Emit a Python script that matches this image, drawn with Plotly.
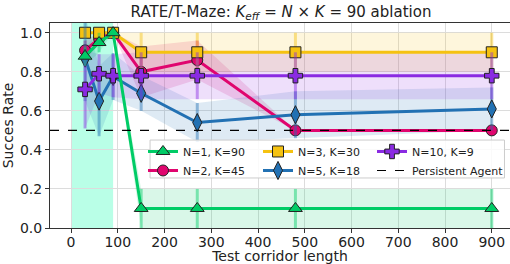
import plotly.graph_objects as go

# ---- data ----
LENGTHS = [30, 60, 90, 150, 270, 480, 900]
TRAIN_MAX = 90
PERSISTENT_RATE = 0.5

NAMES = ["N=1, K=90", "N=2, K=45", "N=3, K=30", "N=5, K=18", "N=10, K=9"]
N1_MEAN = [0.88, 0.95, 1.0, 0.1, 0.1, 0.1, 0.1]
N1_STD = [0.05, 0.05, 0.0, 0.1, 0.1, 0.1, 0.1]
N2_MEAN = [0.91, 0.97, 1.0, 0.80, 0.86, 0.5, 0.5]
N2_STD = [0.05, 0.03, 0.0, 0.13, 0.10, 0.0, 0.0]
N3_MEAN = [1.0, 1.0, 1.0, 0.9, 0.9, 0.9, 0.9]
N3_STD = [0.0, 0.0, 0.0, 0.1, 0.1, 0.1, 0.1]
N5_MEAN = [0.87, 0.65, 0.776, 0.69, 0.54, 0.58, 0.61]
N5_STD = [0.22, 0.18, 0.12, 0.09, 0.10, 0.12, 0.11]
N10_MEAN = [0.71, 0.79, 0.78, 0.78, 0.78, 0.78, 0.78]
N10_STD = [0.20, 0.10, 0.11, 0.12, 0.12, 0.12, 0.12]

X_TICKS = [0, 100, 200, 300, 400, 500, 600, 700, 800, 900]
Y_TICKS = [0.0, 0.2, 0.4, 0.6, 0.8, 1.0]

# ---- styles ----
FONT = "DejaVu Sans"
styles = {
    "N=1, K=90": dict(rgb=(0, 204, 102), symbol="triangle-up", size=12, legend="legend"),
    "N=2, K=45": dict(rgb=(224, 5, 110), symbol="circle", size=11, legend="legend"),
    "N=3, K=30": dict(rgb=(245, 194, 17), symbol="square", size=11, legend="legend2"),
    "N=5, K=18": dict(rgb=(34, 113, 179), symbol="diamond-tall", size=13, legend="legend2"),
    "N=10, K=9": dict(rgb=(138, 43, 226), symbol="cross", size=12, legend="legend3"),
}
data = {
    "N=1, K=90": (N1_MEAN, N1_STD),
    "N=2, K=45": (N2_MEAN, N2_STD),
    "N=3, K=30": (N3_MEAN, N3_STD),
    "N=5, K=18": (N5_MEAN, N5_STD),
    "N=10, K=9": (N10_MEAN, N10_STD),
}
draw_order = ["N=2, K=45", "N=3, K=30", "N=5, K=18", "N=10, K=9", "N=1, K=90"]
legend_order = ["N=1, K=90", "N=2, K=45", "N=3, K=30", "N=5, K=18", "N=10, K=9"]


def rgba(rgb, a):
    return "rgba(%d,%d,%d,%s)" % (rgb[0], rgb[1], rgb[2], a)


fig = go.Figure()

# bands
for name in draw_order:
    mean, std = data[name]
    st = styles[name]
    lo = [m - s for m, s in zip(mean, std)]
    hi = [m + s for m, s in zip(mean, std)]
    fig.add_trace(go.Scatter(x=LENGTHS, y=lo, mode="lines", line=dict(width=0),
                             showlegend=False, hoverinfo="skip"))
    fig.add_trace(go.Scatter(x=LENGTHS, y=hi, mode="lines", line=dict(width=0),
                             fill="tonexty", fillcolor=rgba(st["rgb"], 0.15),
                             showlegend=False, hoverinfo="skip"))

# lines + markers + error bars
for name in draw_order:
    mean, std = data[name]
    st = styles[name]
    col = rgba(st["rgb"], 1)
    fig.add_trace(go.Scatter(
        x=LENGTHS, y=mean, mode="lines+markers", name=name, showlegend=False,
        line=dict(color=col, width=3),
        marker=dict(symbol=st["symbol"], size=st["size"], color=col,
                    line=dict(color="#222222", width=1)),
        error_y=dict(type="data", array=std, color=rgba(st["rgb"], 0.45),
                     thickness=3, width=0),
    ))

# legend entries (legend only, laid out in three columns like the reference)
for name in legend_order:
    st = styles[name]
    col = rgba(st["rgb"], 1)
    fig.add_trace(go.Scatter(
        x=[None], y=[None], mode="lines+markers", name=name, legend=st["legend"],
        line=dict(color=col, width=3),
        marker=dict(symbol=st["symbol"], size=st["size"], color=col,
                    line=dict(color="#222222", width=1)),
    ))
fig.add_trace(go.Scatter(x=[None], y=[None], mode="lines", name="Persistent Agent",
                         legend="legend3",
                         line=dict(color="black", width=1.2, dash="dash")))

# training region span
fig.add_vrect(x0=0, x1=TRAIN_MAX, fillcolor="rgba(127,255,212,0.55)",
              line_width=0, layer="below")

# persistent agent baseline
fig.add_hline(y=PERSISTENT_RATE, line=dict(color="black", width=1.2, dash="dash"),
              layer="above")

# legend frame
fig.add_shape(type="rect", xref="paper", yref="paper",
              x0=0.2175, x1=0.988, y0=0.244, y1=0.429,
              fillcolor="rgba(255,255,255,0.85)",
              line=dict(color="#cccccc", width=1), layer="above")

axis_common = dict(
    showline=True, linecolor="#333333", linewidth=1, mirror=True,
    ticks="outside", ticklen=4, tickcolor="#333333",
    showgrid=True, gridcolor="#dcdcdc", gridwidth=1, zeroline=False,
    tickfont=dict(family=FONT, size=14, color="#222222"),
)

legend_common = dict(
    orientation="v", xanchor="left", yanchor="top", y=0.444,
    bgcolor="rgba(0,0,0,0)", borderwidth=0,
    font=dict(family=FONT, size=11, color="#222222"),
    itemwidth=30, tracegroupgap=0, traceorder="normal",
)

fig.update_layout(
    width=510, height=264,
    margin=dict(l=50, r=0, t=23, b=36),
    paper_bgcolor="white", plot_bgcolor="white",
    font=dict(family=FONT, color="#222222"),
    title=dict(
        text="RATE/T-Maze: <i>K</i><sub><i>eff</i></sub> = <i>N</i> × <i>K</i> = 90 ablation",
        x=0.551, xanchor="center", y=0.955, yanchor="middle",
        font=dict(family=FONT, size=15, color="#222222"),
    ),
    xaxis=dict(range=[-45, 939], tickvals=X_TICKS, ticklabelstandoff=-3,
               title=dict(text="Test corridor length", standoff=4,
                          font=dict(family=FONT, size=14)),
               **axis_common),
    yaxis=dict(range=[0, 1.05], tickvals=Y_TICKS, tickformat=".1f",
               title=dict(text="Succes Rate", standoff=4,
                          font=dict(family=FONT, size=14)),
               **axis_common),
    legend=dict(x=0.2022, **legend_common),
    legend2=dict(x=0.4522, **legend_common),
    legend3=dict(x=0.700, **legend_common),
)

fig.write_html("out.html", config={"displayModeBar": False},
               post_script="document.body.style.margin='0';")
